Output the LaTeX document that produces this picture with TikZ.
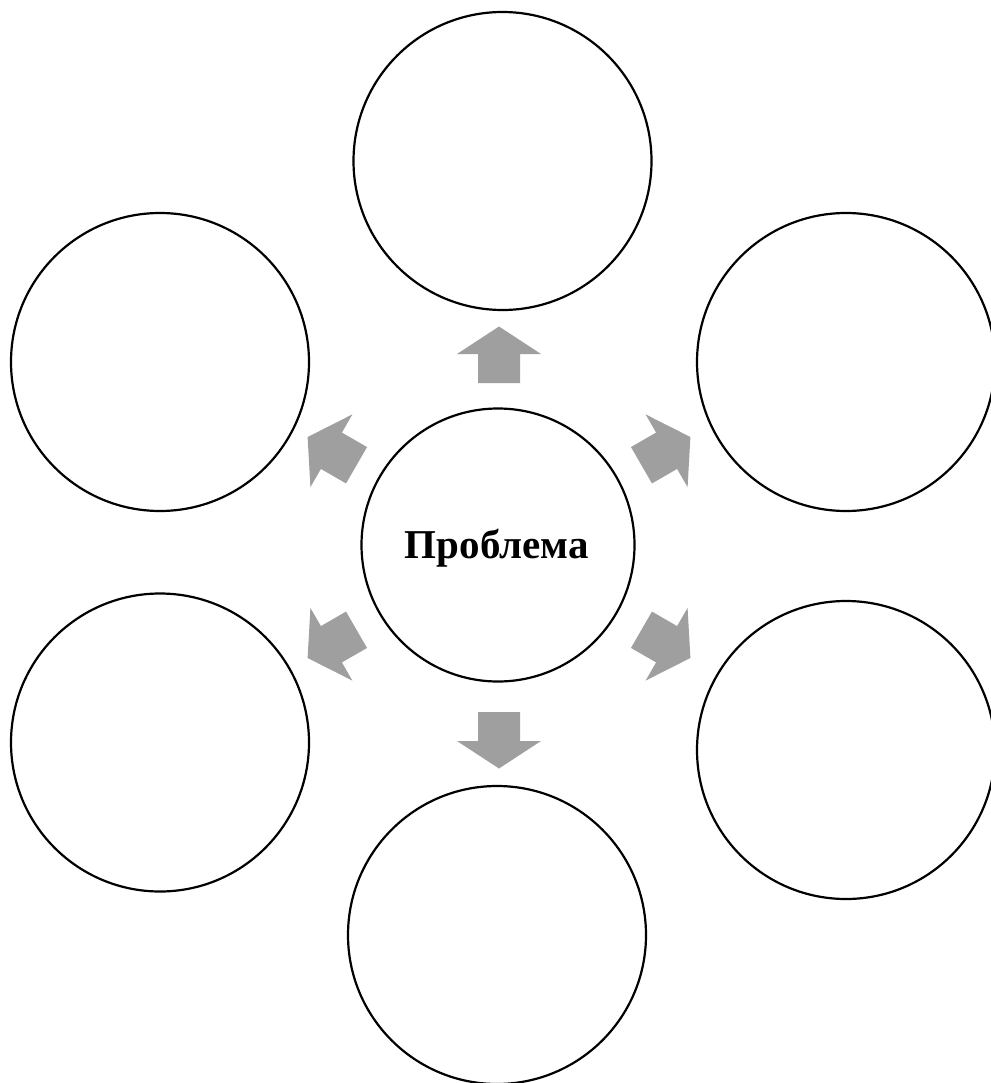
\documentclass[tikz,border=0pt]{standalone}
\usepackage{fontspec}
\setmainfont{Liberation Serif}
\definecolor{arrgray}{HTML}{9F9F9F}
\begin{document}
\begin{tikzpicture}[x=1pt,y=-1pt,
  bubble/.style={circle,draw=black,line width=2.2pt,inner sep=0pt,minimum size=298pt},
  hub/.style={circle,draw=black,line width=2.2pt,inner sep=0pt,minimum size=273pt},
  hubtext/.style={inner sep=0pt,font=\fontsize{41}{49}\selectfont\bfseries},
  blockarrow/.style={fill=arrgray,draw=none}]
\useasboundingbox (0,0) rectangle (990,1083);
\node[hub] (c) at (498,545) {};
\node[hubtext] (ct) at (497,548) {Проблема};
\node[bubble] (t) at (502.5,161) {};
\node[bubble] (ul) at (160,362) {};
\node[bubble] (ur) at (846,362) {};
\node[bubble] (ll) at (160,742.5) {};
\node[bubble] (lr) at (846,750) {};
\node[bubble] (b) at (497,935) {};
\coordinate (ac) at (499,547.5);
\foreach \a in {90,30,150,210,270,330}{
  \begin{scope}[shift={(ac)},rotate=-\a]
    \fill[blockarrow] (164.5,-21) -- (193.5,-21) -- (193.5,-42) -- (221,0)
       -- (193.5,42) -- (193.5,21) -- (164.5,21) -- cycle;
  \end{scope}
}
\end{tikzpicture}
\end{document}
